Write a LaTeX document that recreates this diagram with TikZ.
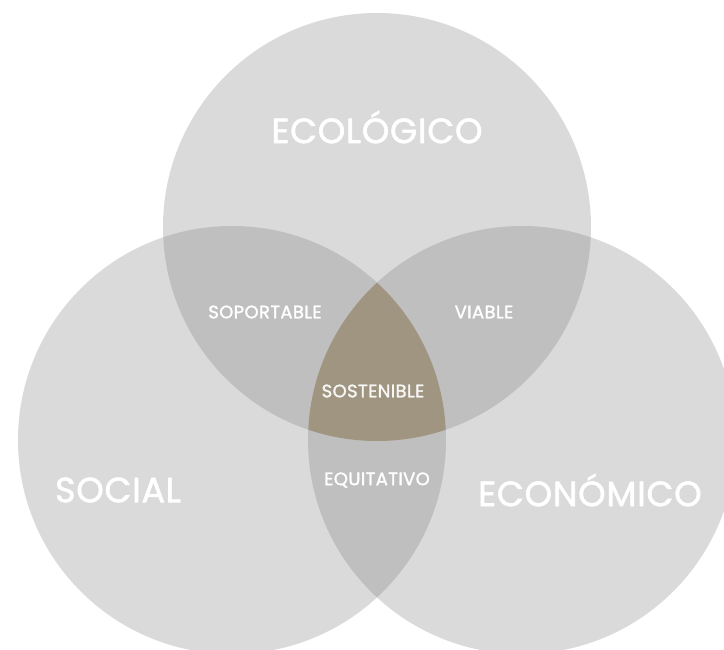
\documentclass[tikz,border=0pt]{standalone}
\usepackage{fontspec}
\setmainfont{Poppins}
\newfontfamily\labelFont{Poppins}[FakeBold=1.6, LetterSpace=2]
\usepackage{tikz}
\definecolor{circleColor}{RGB}{218,218,218}
\definecolor{overlapColor}{RGB}{191,191,191}
\definecolor{coreColor}{RGB}{160,149,129}
\tikzstyle{diagram} = [x = 1pt, y = -1pt]
\tikzstyle{bigLabel} = [text=white, inner sep=0pt, font=\labelFont\fontsize{35}{35}\selectfont]
\tikzstyle{smallLabel} = [text=white, inner sep=0pt, font=\labelFont\fontsize{18}{18}\selectfont]
\newcommand{\rad}{214}
\newcommand{\ecoCircle}{(377,227) circle (\rad)}
\newcommand{\socCircle}{(232,440) circle (\rad)}
\newcommand{\ecnCircle}{(522,440) circle (\rad)}
% overlap of two circles: clip to the first, fill the second
\newcommand{\overlap}[2]{\begin{scope}\clip #1; \fill [overlapColor] #2; \end{scope}}

\begin{document}
\begin{tikzpicture}[diagram]
  \useasboundingbox (0,0) rectangle (724,650);
  \clip (0,0) rectangle (724,650);

  \fill [circleColor] \ecoCircle;
  \fill [circleColor] \socCircle;
  \fill [circleColor] \ecnCircle;

  \overlap{\ecoCircle}{\socCircle}
  \overlap{\ecoCircle}{\ecnCircle}
  \overlap{\socCircle}{\ecnCircle}

  \begin{scope}
    \clip \ecoCircle;
    \clip \socCircle;
    \fill [coreColor] \ecnCircle;
  \end{scope}

  \node [bigLabel] (ecologico) at (377,127) {ECOLÓGICO};
  \node [bigLabel] (social) at (118,490) {SOCIAL};
  \node [bigLabel] (economico) at (590,490) {ECONÓMICO};

  \node [smallLabel] (soportable) at (265,312) {SOPORTABLE};
  \node [smallLabel] (viable) at (484,312) {VIABLE};
  \node [smallLabel, text=white!92!coreColor] (sostenible) at (373,391) {SOSTENIBLE};
  \node [smallLabel] (equitativo) at (377,480) {EQUITATIVO};
\end{tikzpicture}
\end{document}
